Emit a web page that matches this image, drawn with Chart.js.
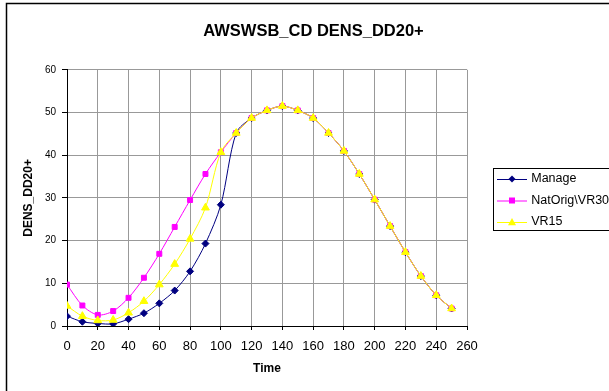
<!DOCTYPE html>
<html>
<head>
<meta charset="utf-8">
<script src="https://cdn.jsdelivr.net/npm/chart.js@4.4.1/dist/chart.umd.min.js"></script>
<style>
  html, body { margin: 0; padding: 0; background: #fff; overflow: hidden; }
  #wrap { position: relative; width: 609px; height: 391px; }
</style>
</head>
<body>
<div id="wrap"><canvas id="chart" width="609" height="391"></canvas></div>
<script>
var time = [0, 10, 20, 30, 40, 50, 60, 70, 80, 90, 100, 110, 120, 130, 140, 150, 160, 170, 180, 190, 200, 210, 220, 230, 240, 250];
var manage = [2.3, 1.0, 0.6, 0.5, 1.6, 3.0, 5.3, 8.3, 12.8, 19.3, 28.4, 45.2, 48.7, 50.5, 51.5, 50.5, 48.7, 45.2, 41.0, 35.6, 29.6, 23.4, 17.3, 11.7, 7.2, 4.1];
var natOrig = [9.7, 4.8, 2.6, 3.5, 6.6, 11.3, 16.9, 23.2, 29.5, 35.6, 40.7, 45.2, 48.7, 50.5, 51.5, 50.5, 48.7, 45.2, 41.0, 35.6, 29.6, 23.4, 17.3, 11.7, 7.2, 4.1];
var vr15 = [4.7, 2.3, 1.3, 1.4, 3.1, 5.8, 9.7, 14.5, 20.4, 27.7, 40.7, 45.2, 48.7, 50.5, 51.5, 50.5, 48.7, 45.2, 41.0, 35.6, 29.6, 23.4, 17.3, 11.7, 7.2, 4.1];
var seriesNames = ['Manage', 'NatOrig\\VR30', 'VR15'];

function points(vals) {
  return time.map(function (t, i) { return { x: t, y: vals[i] }; });
}

// little line + marker pictures for the legend
function legendIcon(color, style, r) {
  var c = document.createElement('canvas');
  c.width = 30; c.height = 10;
  var ctx = c.getContext('2d');
  ctx.strokeStyle = color; ctx.lineWidth = 1;
  ctx.beginPath(); ctx.moveTo(0, 5.5); ctx.lineTo(30, 5.5); ctx.stroke();
  ctx.fillStyle = color;
  ctx.beginPath();
  if (style === 'rectRot') {
    ctx.moveTo(15, 5 - r); ctx.lineTo(15 + r, 5); ctx.lineTo(15, 5 + r); ctx.lineTo(15 - r, 5);
  } else if (style === 'rect') {
    ctx.rect(15 - r, 5 - r, 2 * r, 2 * r);
  } else {
    ctx.moveTo(15, 5 - r); ctx.lineTo(15 + r, 5 + r * 0.8); ctx.lineTo(15 - r, 5 + r * 0.8);
  }
  ctx.closePath(); ctx.fill();
  return c;
}

var icons = [
  legendIcon('#000080', 'rectRot', 3.5),
  legendIcon('#ff00ff', 'rect', 3),
  legendIcon('#ffff00', 'triangle', 4)
];

var framePlugin = {
  id: 'frame',
  beforeLayout: function (chart) {
    var lg = chart.legend;
    if (lg && !lg._wrapped) {
      var fit = lg.fit;
      lg.fit = function () { fit.call(this); this.width = 142; };
      lg._wrapped = true;
    }
  },
  afterLayout: function (chart) {
    var lg = chart.legend;
    lg.left = 490; lg.right = lg.left + 142;
    lg.top -= 1; lg.bottom -= 1;
  },
  beforeDraw: function (chart) {
    var ctx = chart.ctx;
    ctx.save();
    ctx.fillStyle = '#fff';
    ctx.fillRect(0, 0, chart.width, chart.height);
    ctx.strokeStyle = '#000';
    ctx.lineWidth = 1.5;
    ctx.strokeRect(6.5, 3.5, 700, 500);
    ctx.restore();
  },
  afterDraw: function (chart) {
    var boxes = chart.legend.legendHitBoxes;
    if (!boxes || !boxes.length) return;
    var first = boxes[0], last = boxes[boxes.length - 1];
    var top = Math.round(first.top + first.height / 2) - 11;
    var bottom = Math.round(last.top + last.height / 2) + 8;
    var left = Math.round(first.left) - 6;
    var ctx = chart.ctx;
    ctx.save();
    ctx.strokeStyle = '#000';
    ctx.lineWidth = 1;
    ctx.strokeRect(left + 0.5, top + 0.5, 140, bottom - top);
    ctx.restore();
  }
};

Chart.defaults.font.family = '"Liberation Sans", Arial, sans-serif';
Chart.defaults.color = '#000';

new Chart(document.getElementById('chart').getContext('2d'), {
  type: 'line',
  data: {
    datasets: [
      {
        label: seriesNames[0], data: points(manage), order: 3,
        borderColor: '#000080', backgroundColor: '#000080',
        pointStyle: 'rectRot', pointRadius: 3.5, borderWidth: 1, tension: 0.3
      },
      {
        label: seriesNames[1], data: points(natOrig), order: 2,
        borderColor: '#ff00ff', backgroundColor: '#ff00ff',
        pointStyle: 'rect', pointRadius: 3.5, borderWidth: 1, tension: 0.3
      },
      {
        label: seriesNames[2], data: points(vr15), order: 1,
        borderColor: '#ffff00', backgroundColor: '#ffff00',
        pointStyle: 'triangle', pointRadius: 4.5, borderWidth: 1, tension: 0.3
      }
    ]
  },
  options: {
    responsive: false,
    animation: false,
    layout: { padding: { left: 18, right: 0, top: 12, bottom: 0 } },
    plugins: {
      title: {
        display: true,
        text: 'AWSWSB_CD DENS_DD20+',
        font: { size: 16.5, weight: 'bold' },
        color: '#000',
        padding: { top: 9.5, bottom: 28.5 }
      },
      legend: {
        position: 'right',
        align: 'center',
        labels: {
          usePointStyle: true,
          pointStyleWidth: 26,
          padding: 9,
          font: { size: 12.5 },
          color: '#000',
          sort: function (a, b) { return a.datasetIndex - b.datasetIndex; },
          generateLabels: function (chart) {
            var items = Chart.defaults.plugins.legend.labels.generateLabels(chart);
            items.forEach(function (it) { it.pointStyle = icons[it.datasetIndex]; });
            return items;
          }
        }
      },
      tooltip: { enabled: false }
    },
    scales: {
      x: {
        type: 'linear',
        min: 0, max: 260,
        afterFit: function (scale) { scale.height = 65; },
        ticks: { stepSize: 20, font: { size: 13 }, color: '#000', padding: 9 },
        grid: { color: '#999', tickColor: '#000', tickLength: 4 },
        border: { color: '#000', width: 1 },
        title: { display: true, text: 'Time', font: { size: 12, weight: 'bold' }, color: '#000', padding: { bottom: 15 } }
      },
      y: {
        min: 0, max: 60,
        afterFit: function (scale) { scale.width = 49; },
        ticks: { stepSize: 10, font: { size: 10 }, color: '#000', padding: 6 },
        grid: { color: '#999', tickColor: '#000', tickLength: 5 },
        border: { color: '#000', width: 1 },
        title: { display: true, text: 'DENS_DD20+', font: { size: 12, weight: 'bold' }, color: '#000', padding: { top: 3 } }
      }
    }
  },
  plugins: [framePlugin]
});
</script>
</body>
</html>
